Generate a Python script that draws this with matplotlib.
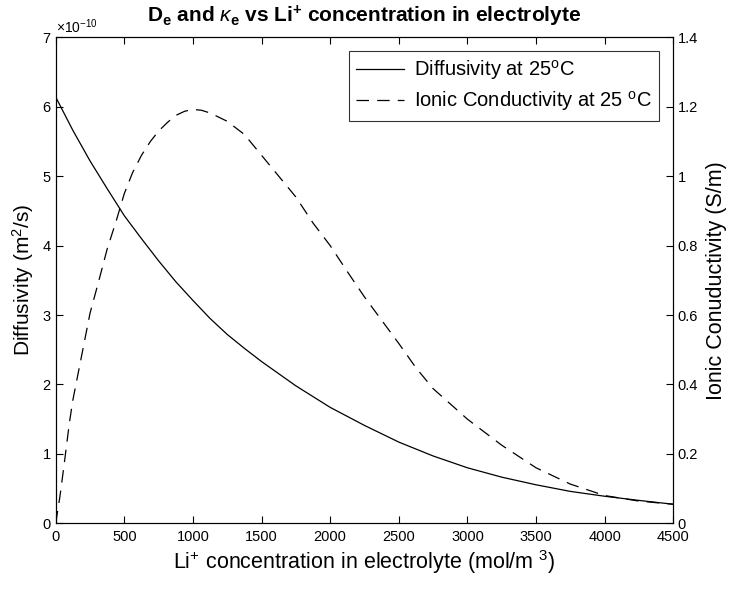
import matplotlib
matplotlib.use("Agg")
import matplotlib.pyplot as plt
import numpy as np

plt.rcParams['font.family'] = ['Liberation Sans', 'DejaVu Sans']
plt.rcParams['mathtext.fontset'] = 'custom'
plt.rcParams['mathtext.rm'] = 'Liberation Sans'
plt.rcParams['mathtext.it'] = 'Liberation Sans:italic'
plt.rcParams['mathtext.bf'] = 'Liberation Sans:bold'

# Diffusivity (x1e-10 m^2/s) vs concentration (mol/m^3)
conc_D = [0, 125, 250, 375, 500, 625, 750, 875, 1000, 1125, 1250, 1375, 1500, 1750, 2000,
          2250, 2500, 2750, 3000, 3250, 3500, 3750, 4000, 4250, 4500]
diff_e10 = [6.14, 5.66, 5.22, 4.82, 4.43, 4.10, 3.78, 3.48, 3.21, 2.95, 2.72, 2.52, 2.33, 1.98, 1.67,
            1.41, 1.17, 0.97, 0.80, 0.665, 0.555, 0.46, 0.39, 0.33, 0.275]

# Ionic conductivity (S/m) vs concentration
conc_K = [0, 30, 60, 100, 125, 175, 250, 315, 375, 440, 500, 560, 625, 690, 750, 815, 875, 940,
          1000, 1060, 1125, 1250, 1375, 1500, 1625, 1750, 1875, 2000, 2125, 2250,
          2375, 2500, 2625, 2750, 3000, 3250, 3500, 3750, 4000, 4250, 4500]
kappa = [0.0, 0.075, 0.165, 0.29, 0.355, 0.455, 0.605, 0.70, 0.79, 0.87, 0.95, 1.01, 1.06, 1.10,
         1.13, 1.155, 1.175, 1.187, 1.192, 1.190, 1.182, 1.158, 1.12, 1.06, 1.0, 0.94, 0.865,
         0.80, 0.725, 0.652, 0.585, 0.518, 0.448, 0.388, 0.30, 0.225, 0.16, 0.113, 0.08, 0.064, 0.055]

fig = plt.figure(figsize=(7.3, 5.9), dpi=100)
ax = fig.add_axes([0.0763, 0.113, 0.846, 0.8238])
ax2 = ax.twinx()

diff = [v * 1e-10 for v in diff_e10]
l1, = ax.plot(conc_D, diff, color='black', lw=0.9, label=r'Diffusivity at 25$^{\rm o}$C')
l2, = ax2.plot(conc_K, kappa, color='black', lw=0.9, ls=(0, (10, 6.5)),
               label=r'Ionic Conductivity at 25 $^{\rm o}$C')

ax.set_xlim(0, 4500)
ax.set_ylim(0, 7e-10)
ax2.set_ylim(0, 1.4)
ax.set_xticks(np.arange(0, 4501, 500))
ax.set_yticks(np.arange(0, 7.01e-10, 1e-10))
ax2.set_yticks([0, 0.2, 0.4, 0.6, 0.8, 1.0, 1.2, 1.4])
ax2.set_yticklabels(['0', '0.2', '0.4', '0.6', '0.8', '1', '1.2', '1.4'])

ax.ticklabel_format(axis='y', style='sci', scilimits=(0, 0), useMathText=True)
ax.yaxis.get_offset_text().set_fontsize(10)

ax.tick_params(axis='x', direction='in', top=True, length=5, labelsize=10.5, pad=5)
ax.tick_params(axis='y', direction='in', length=5, labelsize=10.5, pad=3)
ax2.tick_params(axis='y', direction='in', length=5, labelsize=10.5, pad=3)
for a in (ax, ax2):
    for s in a.spines.values():
        s.set_linewidth(0.8)

ax.set_xlabel(r'Li$^{+}$ concentration in electrolyte (mol/m $^{3}$)', fontsize=15.5, labelpad=3)
ax.set_ylabel(r'Diffusivity (m$^{2}$/s)', fontsize=15, labelpad=4)
ax2.set_ylabel('Ionic Conuductivity (S/m)', fontsize=15.5, labelpad=6)
ax.set_title(r'$\mathbf{D_e}$ and $\kappa_{\mathbf{e}}$ vs Li$^{\mathbf{+}}$ concentration in electrolyte',
             fontsize=15, fontweight='bold', pad=11)

leg = ax.legend(handles=[l1, l2], loc='upper right', fontsize=14.5, frameon=True,
                fancybox=False, edgecolor='black', handlelength=2.4,
                borderaxespad=0.7, labelspacing=0.35, handletextpad=0.5, borderpad=0.35)
leg.get_frame().set_linewidth(0.8)

fig.savefig('out.png', dpi=100)
